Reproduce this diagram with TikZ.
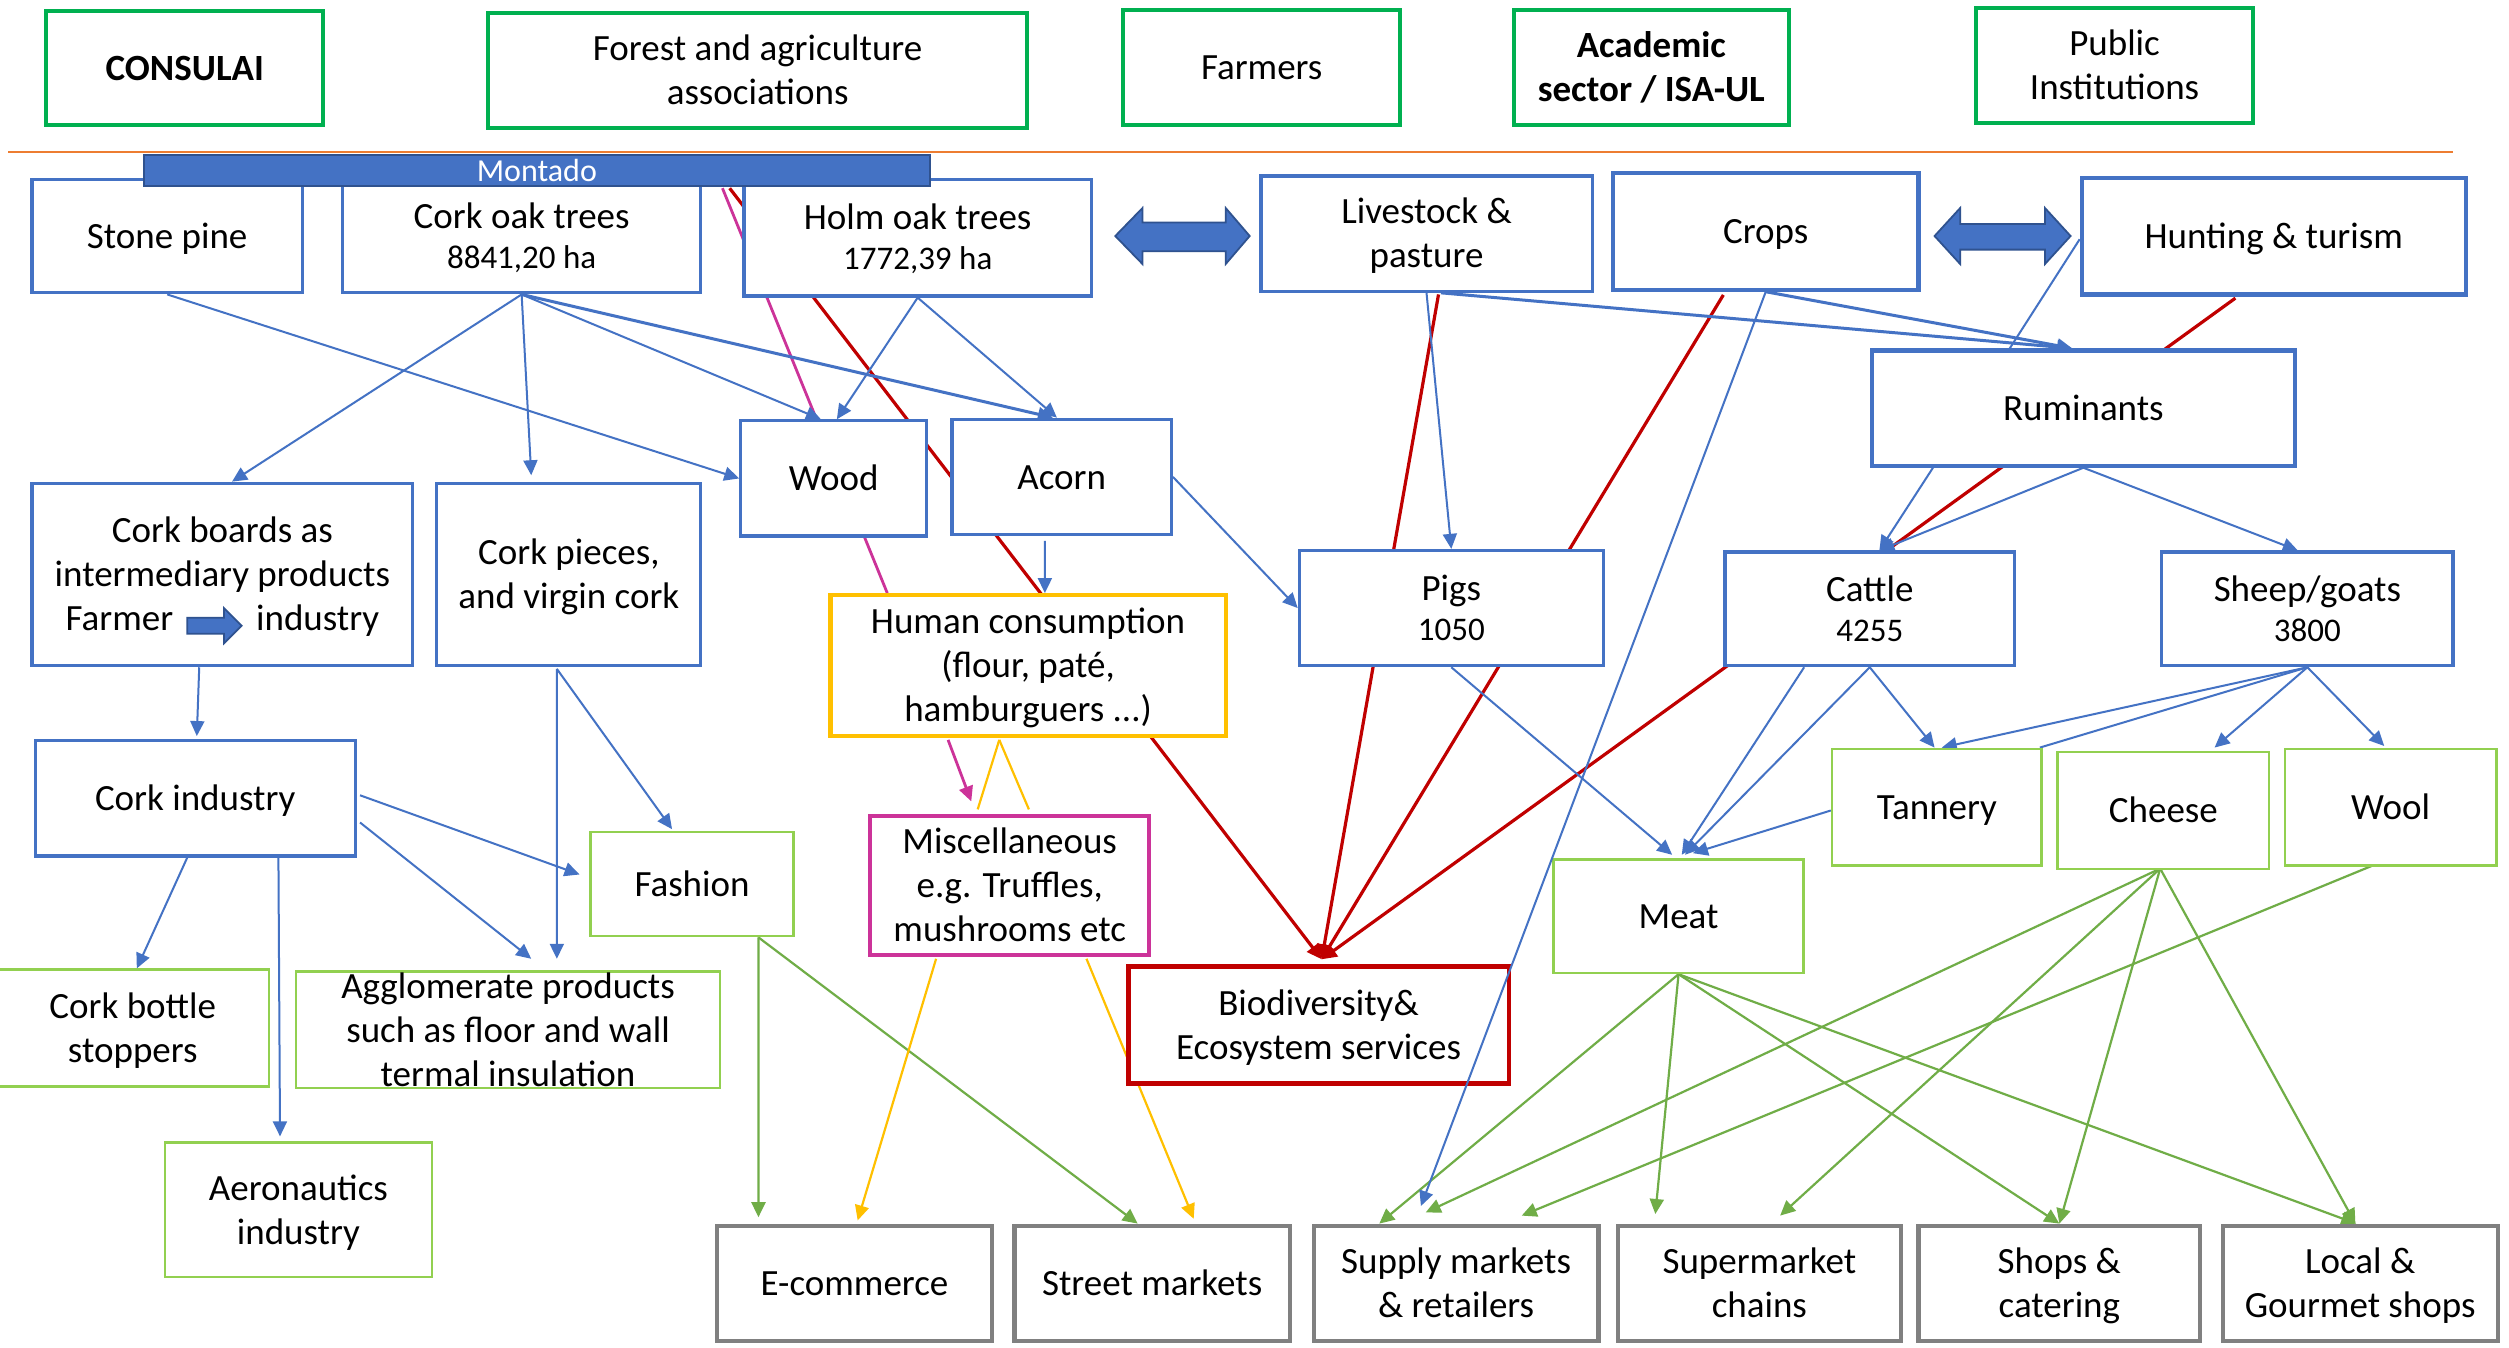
\documentclass[tikz,border=0pt]{standalone}
\usepackage{fontspec}
\setmainfont{Carlito}
\usetikzlibrary{arrows.meta,calc}

\definecolor{oblue}{HTML}{4472C4}
\definecolor{odkblue}{HTML}{2F528F}
\definecolor{ogreen}{HTML}{00B050}
\definecolor{lgreen}{HTML}{92D050}
\definecolor{agreen}{HTML}{70AD47}
\definecolor{ogray}{HTML}{808080}
\definecolor{ored}{HTML}{C00000}
\definecolor{oyellow}{HTML}{FFC000}
\definecolor{opink}{RGB}{204,51,153}
\definecolor{oorange}{HTML}{ED7D31}

\newcommand\smallnum{\fontsize{16.5}{20}\selectfont}
% box text: centred lines with fixed struts, set a little low in the box
\newcommand\tb[1]{\raisebox{0pt}[\dimexpr\height+3.5pt\relax][\depth]{%
  \begin{tabular}{@{}c@{}}#1\end{tabular}}}
% three lines of text that run past a shallow box
\newcommand\tbover[1]{\raisebox{0pt}[0pt][31pt]{%
  \begin{tabular}[t]{@{}c@{}}#1\end{tabular}}}

\pgfdeclarelayer{paper}
\pgfdeclarelayer{bg}
\pgfsetlayers{paper,bg,main}

\tikzset{
  base/.style={draw, fill=white, rectangle, inner sep=0pt, align=center,
    font=\fontsize{18.5}{22}\selectfont},
  sz/.style 2 args={minimum width=#1*0.8pt, minimum height=#2*0.8pt},
  topbox/.style={base, draw=ogreen, line width=2pt},
  topbold/.style={font=\fontsize{18.5}{22}\selectfont\bfseries},
  bluebox/.style={base, draw=oblue, line width=1.6pt},
  blueboxt/.style={base, draw=oblue, line width=2.1pt},
  lgbox/.style={base, draw=lgreen, line width=1.3pt},
  graybox/.style={base, draw=ogray, line width=2.1pt},
  arr/.style={-{Triangle[length=7.5pt,width=7pt]}},
  bl/.style={draw=oblue, line width=1pt},
  blt/.style={draw=oblue, line width=1.5pt},
  gr/.style={draw=agreen, line width=1.1pt},
  rd/.style={draw=ored, line width=1.6pt},
  yl/.style={draw=oyellow, line width=1.1pt},
  pk/.style={draw=opink, line width=1.4pt},
  blockarrow/.style={fill=oblue, draw=odkblue, line width=0.9pt, line join=miter}
}

\begin{document}
\begin{tikzpicture}[x=0.8pt,y=-0.8pt]
\useasboundingbox (0,0) rectangle (1568,842);
\begin{pgfonlayer}{paper}
  \fill[white] (0,0) rectangle (1568,842);
\end{pgfonlayer}

% ---- stakeholders ----
\node[topbox,topbold,sz={173}{71}] (consulai) at (115.5,42.5) {\tb{CONSULAI}};
\node[topbox,sz={337}{72}] (forest) at (473.5,44) {\tb{Forest and agriculture\\associations}};
\node[topbox,sz={173}{72}] (farmers) at (788.5,42) {\tb{Farmers}};
\node[topbox,topbold,sz={172}{72}] (academic) at (1032,42) {\tb{Academic\\sector / ISA-UL}};
\node[topbox,sz={173}{72}] (public) at (1321.5,41) {\tb{Public\\Institutions}};

\draw[oorange, line width=1pt] (5,95) -- (1533,95);

% ---- land uses ----
\node[bluebox,sz={169}{71}] (stone) at (104.5,147.5) {\tb{Stone pine}};
\node[bluebox,sz={224}{71}] (corkoak) at (326,147.5) {\tb{Cork oak trees\\[-2pt]\smallnum 8841,20 ha}};
\node[bluebox,sz={217}{73}] (holm) at (573.5,148.5) {\tb{Holm oak trees\\[-2pt]\smallnum 1772,39 ha}};
\node[bluebox,sz={207}{72}] (livestock) at (891.5,146) {\tb{Livestock \&\\pasture}};
\node[blueboxt,sz={191}{73}] (crops) at (1103.5,144.5) {\tb{Crops}};
\node[blueboxt,sz={240}{73}] (hunting) at (1421,147.5) {\tb{Hunting \& turism}};

\node[fill=oblue, draw=odkblue, line width=1pt, inner sep=0pt, sz={491}{19},
  text=white, font=\fontsize{16}{18}\selectfont] (montado) at (335.5,106.5) {Montado};

% block arrows between land uses
\filldraw[blockarrow] (697,147.5) -- (714,130) -- (714,139) -- (766,139) -- (766,130)
  -- (781,147.5) -- (766,165) -- (766,157) -- (714,157) -- (714,165) -- cycle;
\filldraw[blockarrow] (1209,147.5) -- (1225,130) -- (1225,140) -- (1278,140) -- (1278,130)
  -- (1294,147.5) -- (1278,165) -- (1278,156) -- (1225,156) -- (1225,165) -- cycle;

% ---- products ----
\node[blueboxt,sz={264}{72}] (ruminants) at (1302,255) {\tb{Ruminants}};
\node[bluebox,sz={116}{72}] (wood) at (521,299) {\tb{Wood}};
\node[bluebox,sz={137}{72}] (acorn) at (663.5,298) {\tb{Acorn}};
\node[bluebox,sz={238}{114}] (corkboards) at (139,359)
  {\tb{Cork boards as\\intermediary products\\Farmer\hspace{41.5pt}industry}};
\filldraw[blockarrow] (117,386) -- (140,386) -- (140,380) -- (151,391) -- (140,402)
  -- (140,396) -- (117,396) -- cycle;
\node[bluebox,sz={165}{114}] (corkpieces) at (355.5,359) {\tb{Cork pieces,\\and virgin cork}};
\node[base,draw=oyellow,line width=2.2pt,sz={247}{88}] (human) at (642.5,416)
  {\tb{Human consumption\\(flour, paté,\\hamburguers ...)}};
\node[bluebox,sz={190}{72}] (pigs) at (907,380) {\tb{Pigs\\[-2pt]\smallnum 1050}};
\node[bluebox,sz={181}{71}] (cattle) at (1168.5,380.5) {\tb{Cattle\\[-2pt]\smallnum 4255}};
\node[bluebox,sz={182}{71}] (sheep) at (1442,380.5) {\tb{Sheep/goats\\[-2pt]\smallnum 3800}};

\node[bluebox,sz={200}{72}] (corkind) at (122,499) {\tb{Cork industry}};
\node[lgbox,sz={127}{65}] (fashion) at (432.5,552.5) {\tb{Fashion}};
\node[base,draw=opink,line width=2pt,sz={174}{81}] (misc) at (631,553.5)
  {\tb{Miscellaneous\\e.g. Truffles,\\mushrooms etc}};
\node[lgbox,sz={131}{73}] (tannery) at (1210.5,504.5) {\tb{Tannery}};
\node[lgbox,sz={132}{73}] (cheese) at (1352,506.5) {\tb{Cheese}};
\node[lgbox,sz={132}{73}] (wool) at (1494,504.5) {\tb{Wool}};
\node[lgbox,sz={156}{71}] (meat) at (1049,572.5) {\tb{Meat}};

\node[lgbox,sz={170}{73}] (stoppers) at (83,642.5) {\tb{Cork bottle\\stoppers}};
\node[lgbox,sz={265}{73}] (agglo) at (317.5,643.5)
  {\tbover{Agglomerate products\\such as floor and wall\\termal insulation}};
\node[base,draw=ored,line width=2.4pt,sz={238}{73}] (bio) at (824,640.5)
  {\tb{Biodiversity\&\\Ecosystem services}};
\node[lgbox,sz={167}{84}] (aero) at (186.5,756) {\tb{Aeronautics\\industry}};

% ---- markets ----
\node[graybox,sz={172}{72}] (ecom) at (534,802) {\tb{E-commerce}};
\node[graybox,sz={172}{72}] (street) at (720,802) {\tb{Street markets}};
\node[graybox,sz={178}{72}] (supply) at (910,802) {\tb{Supply markets\\\& retailers}};
\node[graybox,sz={177}{72}] (superm) at (1099.5,802) {\tb{Supermarket\\chains}};
\node[graybox,sz={176}{72}] (shops) at (1287,802) {\tb{Shops \&\\catering}};
\node[graybox,sz={172}{72}] (local) at (1475,802) {\tb{Local \&\\Gourmet shops}};

% ---- links (behind the boxes) ----
\begin{pgfonlayer}{bg}
  % links crossing from the Montado band
  \draw[pk] ($(montado.south)+(116,1)$) -- ($(human.north)+(-88,0)$);
  \draw[rd,arr] ($(montado.south)+(120.5,1)$) -- ($(bio.north)+(2,-3)$);
  \draw[rd,arr] ($(livestock.south)+(7.5,1)$) -- ($(bio.north)+(2,-3)$);
  \draw[rd,arr] ($(crops.south)+(-26.5,2)$) -- ($(bio.north)+(2,-3)$);
  \draw[rd,arr] ($(hunting.south)+(-24,1)$) -- ($(bio.north)+(2,-3)$);

  % trees
  \draw[bl,arr] (stone.south) -- (wood.west);
  \draw[bl,arr] (corkoak.south) -- ($(corkboards.north)+(6,0)$);
  \draw[bl,arr] (corkoak.south) -- ($(corkpieces.north)+(-23.5,-4)$);
  \draw[bl,arr] (corkoak.south) -- ($(wood.north)+(-8,0)$);
  \draw[blt,arr] (corkoak.south) -- ($(acorn.north)+(-5.5,0)$);
  \draw[bl,arr] (holm.south) -- ($(wood.north)+(2,0)$);
  \draw[bl,arr] (holm.south) -- ($(acorn.north)+(-3,0)$);
  \draw[bl,arr] ($(acorn.south)+(-10.5,3)$) -- ($(human.north)+(10.5,0)$);
  \draw[bl,arr] (acorn.east) -- (pigs.west);

  % livestock
  \draw[bl,arr] (livestock.south) -- (pigs.north);
  \draw[blt,arr] ($(livestock.south)+(9,0)$) -- ($(ruminants.north)+(-7,0)$);
  \draw[blt,arr] (crops.south) -- ($(ruminants.north)+(-7,0)$);
  \draw[bl] ($(hunting.west)+(0,2)$) -- ($(ruminants.north)+(-46,0)$);
  \draw[bl,arr] ($(ruminants.south)+(-94,0)$) -- ($(cattle.north)+(6,0)$);
  \draw[bl,arr] (ruminants.south) -- ($(cattle.north)+(6,0)$);
  \draw[bl,arr] (ruminants.south) -- ($(sheep.north)+(-6,0)$);
  \draw[bl,arr] (pigs.south) -- ($(meat.north)+(-4,-2)$);
  \draw[bl,arr] ($(cattle.south)+(-41,0)$) -- ($(meat.north)+(2,-2)$);
  \draw[bl,arr] (cattle.south) -- ($(meat.north)+(4,-2)$);
  \draw[bl,arr] (cattle.south) -- ($(tannery.north)+(-1.5,0)$);
  \draw[bl,arr] (sheep.south) -- ($(tannery.north)+(3,0)$);
  \draw[bl] (sheep.south) -- ($(tannery.north east)+(-2,0)$);
  \draw[bl,arr] (sheep.south) -- ($(cheese.north)+(32,-2)$);
  \draw[bl,arr] (sheep.south) -- ($(wool.north)+(-4,-1)$);
  \draw[bl,arr] ($(tannery.west)+(0,2)$) -- ($(meat.north)+(9,-3)$);

  % cork chain
  \draw[bl,arr] ($(corkboards.south)+(-14.5,0)$) -- ($(corkind.north)+(1,-2)$);
  \draw[bl,arr] ($(corkpieces.south)+(-7.5,1)$) -- ($(agglo.north)+(30.5,-7)$);
  \draw[bl,arr] ($(corkpieces.south)+(-7.5,1)$) -- ($(fashion.north)+(-12.5,-1)$);
  \draw[bl,arr] ($(corkind.east)+(2,-2)$) -- ($(fashion.west)+(-6,-6)$);
  \draw[bl,arr] ($(corkind.east)+(2,15)$) -- ($(agglo.north)+(14.5,-7)$);
  \draw[bl,arr] ($(corkind.south)+(-5,0)$) -- ($(stoppers.north)+(2.5,0)$);
  \draw[bl,arr] ($(corkind.south)+(52,0)$) -- ($(aero.north)+(-11.5,-3)$);

  % sales channels
  \draw[gr,arr] ($(fashion.south)+(41.5,0)$) -- ($(ecom.north)+(-60,-4)$);
  \draw[gr,arr] ($(fashion.south)+(41.5,0)$) -- ($(street.north)+(-9,0)$);
  \draw[gr,arr] (meat.south) -- ($(supply.north)+(-48,0)$);
  \draw[gr,arr] (meat.south) -- ($(superm.north)+(-65,-6)$);
  \draw[gr,arr] (meat.south) -- (shops.north);
  \draw[gr,arr] (meat.south) -- ($(local.north)+(-2.5,0)$);
  \draw[gr,arr] ($(cheese.south)+(-2,-1)$) -- ($(supply.north)+(-19,-7)$);
  \draw[gr,arr] ($(cheese.south)+(-2,-1)$) -- ($(superm.north)+(13,-5)$);
  \draw[gr,arr] ($(cheese.south)+(-2,-1)$) -- (shops.north);
  \draw[gr,arr] ($(cheese.south)+(-2,-1)$) -- ($(local.north)+(-3,0)$);
  \draw[gr,arr] ($(wool.south)+(-11,-1)$) -- ($(supply.north)+(41,-5)$);

  % food products
  \draw[yl] ($(human.south)+(-18,1)$) -- ($(misc.north)+(-20,-3)$);
  \draw[yl] ($(human.south)+(-18,1)$) -- ($(misc.north)+(12,-3)$);
  \draw[yl,arr] ($(misc.south)+(-46,1)$) -- ($(ecom.north)+(2,-2)$);
  \draw[yl,arr] ($(misc.south)+(48,1)$) -- ($(street.north)+(26,-3)$);
  \draw[pk,arr] ($(human.south)+(-50,1)$) -- ($(misc.north)+(-24,-8)$);
\end{pgfonlayer}

% crops to supply markets, drawn over the biodiversity box
\draw[bl,arr] (crops.south) -- ($(supply.north)+(-22,-11)$);
\end{tikzpicture}
\end{document}
